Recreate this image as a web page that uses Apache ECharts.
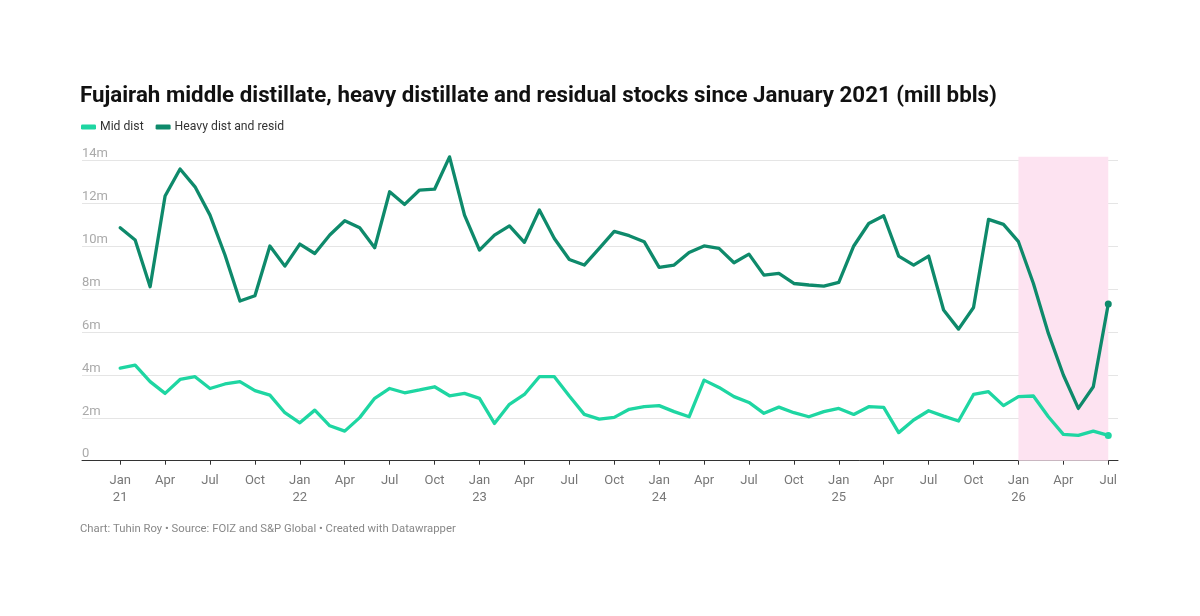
<!DOCTYPE html>
<html lang="en">
<head>
    <meta charset="utf-8" />
    <script src="https://cdn.jsdelivr.net/npm/echarts@6/dist/echarts.min.js"></script>
    <title>fujairah_stocks</title>
    <style>
        body { margin: 0; background: #fff; }
    </style>
</head>

<body>
<div id="main" style="width:1200px; height:616px;"></div>
<script type="text/javascript">
    // month index 0 = Jan 2021, 66 = Jul 2026
    const monthNames = ['Jan', 'Feb', 'Mar', 'Apr', 'May', 'Jun', 'Jul', 'Aug', 'Sep', 'Oct', 'Nov', 'Dec'];
    const startYear = 21;
    const tickMonths = [0, 3, 6, 9, 12, 15, 18, 21, 24, 27, 30, 33, 36, 39, 42, 45, 48, 51, 54, 57, 60, 63, 66];
    const yTicks = [0, 2, 4, 6, 8, 10, 12, 14];
    const shadeFrom = 60;
    const shadeTo = 66;

    // million barrels
    const midDist = [
        4.32, 4.46, 3.69, 3.14, 3.79, 3.92, 3.37, 3.58, 3.69, 3.27, 3.06, 2.24,
        1.77, 2.36, 1.63, 1.38, 2.01, 2.91, 3.37, 3.17, 3.30, 3.45, 3.03, 3.14,
        2.91, 1.74, 2.63, 3.09, 3.92, 3.92, 3.02, 2.16, 1.94, 2.02, 2.40, 2.52,
        2.57, 2.29, 2.05, 3.76, 3.42, 2.99, 2.72, 2.21, 2.50, 2.24, 2.05, 2.29,
        2.44, 2.16, 2.52, 2.49, 1.31, 1.90, 2.33, 2.08, 1.85, 3.09, 3.22, 2.57,
        2.99, 3.02, 2.05, 1.23, 1.18, 1.38, 1.18
    ];
    const heavyDist = [
        10.87, 10.30, 8.12, 12.35, 13.61, 12.78, 11.46, 9.60, 7.45, 7.70, 10.02, 9.08,
        10.11, 9.67, 10.53, 11.20, 10.87, 9.94, 12.55, 11.96, 12.63, 12.67, 14.18, 11.46,
        9.83, 10.53, 10.96, 10.19, 11.70, 10.37, 9.39, 9.13, 9.91, 10.70, 10.50, 10.22,
        9.02, 9.13, 9.72, 10.02, 9.91, 9.24, 9.64, 8.66, 8.74, 8.27, 8.20, 8.15,
        8.32, 10.02, 11.07, 11.43, 9.55, 9.13, 9.55, 7.03, 6.14, 7.15, 11.26, 11.03,
        10.22, 8.27, 5.94, 4.00, 2.44, 3.45, 7.31
    ];

    const fontFamily = 'Roboto, "Noto Sans", sans-serif';
    const xMin = -2.55;
    const xMax = 66.65;

    function toSeriesData(values) {
        return values.map(function (v, i) {
            if (i === values.length - 1) {
                return { value: [i, v], symbol: 'circle', symbolSize: 7 };
            }
            return [i, v];
        });
    }

    function monthLabel(v) {
        const m = Math.round(v);
        const name = monthNames[m % 12];
        if (m % 12 === 0) return name + '\n' + (startYear + m / 12);
        return name;
    }

    let myChart = echarts.init(document.getElementById('main'));

    option = {
        backgroundColor: '#fff',
        animation: false,
        textStyle: { fontFamily: fontFamily },
        title: [{
            text: 'Fujairah middle distillate, heavy distillate and residual stocks since January 2021 (mill bbls)',
            left: 80,
            top: 85,
            padding: 0,
            textStyle: {
                fontFamily: fontFamily,
                fontSize: 22.3,
                fontWeight: 'bold',
                color: '#111'
            }
        }, {
            text: 'Chart: Tuhin Roy \u2022 Source: FOIZ and S&P Global \u2022 Created with Datawrapper',
            left: 80,
            top: 524,
            padding: 0,
            textStyle: {
                fontFamily: fontFamily,
                fontSize: 11.3,
                fontWeight: 'normal',
                color: '#888'
            }
        }],
        legend: {
            left: 81,
            top: 121,
            padding: 0,
            icon: 'roundRect',
            itemWidth: 15,
            itemHeight: 5,
            itemGap: 12,
            textStyle: { fontFamily: fontFamily, fontSize: 12.2, color: '#333', padding: [0, 0, 0, -1] },
            data: ['Mid dist', 'Heavy dist and resid']
        },
        grid: [{
            left: 82,
            right: 82,
            top: 160.7,
            bottom: 616 - 460.7,
            containLabel: false
        }, {
            left: 82,
            right: 82,
            top: 156.7,
            bottom: 616 - 460.7,
            containLabel: false
        }],
        xAxis: [{
            type: 'value',
            gridIndex: 0,
            min: xMin,
            max: xMax,
            splitLine: { show: false },
            axisLine: { show: true, onZero: false, lineStyle: { color: '#333', width: 1 } },
            axisTick: {
                show: true,
                customValues: tickMonths,
                length: 4,
                lineStyle: { color: '#333' }
            },
            axisLabel: {
                customValues: tickMonths,
                formatter: monthLabel,
                color: '#777',
                fontSize: 13,
                lineHeight: 17,
                margin: 12,
                fontFamily: fontFamily
            }
        }, {
            type: 'value',
            gridIndex: 1,
            min: xMin,
            max: xMax,
            show: false
        }],
        yAxis: [{
            type: 'value',
            gridIndex: 0,
            min: 0,
            max: 14,
            interval: 2,
            axisLine: { show: false },
            axisTick: { show: false },
            splitLine: { lineStyle: { color: '#e5e5e5', width: 1 } },
            axisLabel: {
                inside: true,
                margin: 0,
                verticalAlign: 'bottom',
                padding: [0, 0, 0, 0],
                color: '#aaa',
                fontSize: 13,
                fontFamily: fontFamily,
                formatter: function (v) {
                    return v === 0 ? '0' : v + 'm';
                }
            }
        }, {
            type: 'value',
            gridIndex: 1,
            min: 0,
            max: 1,
            show: false
        }],
        series: [{
            name: 'shade',
            type: 'line',
            xAxisIndex: 1,
            yAxisIndex: 1,
            z: 0,
            silent: true,
            data: [],
            markArea: {
                silent: true,
                itemStyle: { color: '#fde3f1' },
                data: [[{ xAxis: shadeFrom, yAxis: 0 }, { xAxis: shadeTo, yAxis: 1 }]]
            }
        }, {
            name: 'Mid dist',
            type: 'line',
            z: 3,
            clip: false,
            symbol: 'none',
            showSymbol: true,
            color: '#1ed6a2',
            lineStyle: { width: 3.3, color: '#1ed6a2', join: 'round', cap: 'round' },
            itemStyle: { color: '#1ed6a2' },
            data: toSeriesData(midDist)
        }, {
            name: 'Heavy dist and resid',
            type: 'line',
            z: 3,
            clip: false,
            symbol: 'none',
            showSymbol: true,
            color: '#0e8a6b',
            lineStyle: { width: 3.3, color: '#0e8a6b', join: 'round', cap: 'round' },
            itemStyle: { color: '#0e8a6b' },
            data: toSeriesData(heavyDist)
        }]
    };
    myChart.setOption(option);
</script>
</body>
</html>
